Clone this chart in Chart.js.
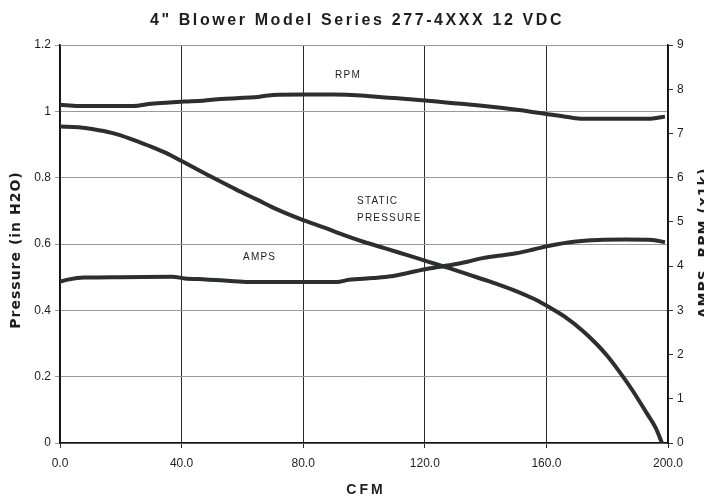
<!DOCTYPE html>
<html>
<head>
<meta charset="utf-8">
<script src="https://cdn.jsdelivr.net/npm/chart.js@4.4.0/dist/chart.umd.min.js"></script>
<style>
  html, body { margin: 0; padding: 0; background: #fff; }
  canvas { display: block; }
</style>
</head>
<body>
<canvas id="blowerChart" width="704" height="500"></canvas>
<script>
// 4" blower curves — pressure on the left axis, rpm and amps on the right one

const TITLE = '4" Blower Model Series 277-4XXX 12 VDC';

const X_TICKS = ['0.0', '40.0', '80.0', '120.0', '160.0', '200.0'];
const PRESSURE_TICKS = ['0', '0.2', '0.4', '0.6', '0.8', '1', '1.2'];
const RIGHT_TICKS = ['0', '1', '2', '3', '4', '5', '6', '7', '8', '9'];

const PRESSURE_CFM = [0, 6, 11, 17, 23, 29, 35, 40, 46, 52, 58, 65, 71, 80, 87, 93, 100, 107, 114, 121, 128, 134, 141, 150, 156, 161, 166, 172, 176, 180, 184, 188.5, 193, 196, 198];
const PRESSURE_VALUES = [0.954, 0.952, 0.946, 0.935, 0.918, 0.897, 0.874, 0.850, 0.821, 0.792, 0.764, 0.733, 0.706, 0.672, 0.649, 0.628, 0.606, 0.587, 0.567, 0.547, 0.527, 0.509, 0.488, 0.458, 0.434, 0.409, 0.381, 0.338, 0.303, 0.263, 0.215, 0.156, 0.090, 0.045, 0.0];

const RPM_CFM = [0, 6, 24, 30, 36, 41, 47, 53, 59, 64, 70, 80, 90, 99, 104, 110, 116, 121, 127, 132, 138, 145, 151, 156, 161, 167, 172, 180, 190, 195, 199];
const RPM_VALUES = [7.65, 7.62, 7.62, 7.67, 7.70, 7.72, 7.74, 7.78, 7.80, 7.82, 7.87, 7.88, 7.88, 7.86, 7.83, 7.80, 7.77, 7.74, 7.70, 7.67, 7.63, 7.58, 7.53, 7.48, 7.43, 7.37, 7.33, 7.33, 7.33, 7.34, 7.38];

const AMPS_CFM = [0, 3, 8, 20, 37, 41, 48, 55, 62, 80, 91, 95, 103, 109, 114, 121, 129, 134, 139, 145, 150, 156, 161, 169, 177, 186, 195, 199];
const AMPS_VALUES = [3.65, 3.70, 3.74, 3.75, 3.76, 3.72, 3.70, 3.67, 3.64, 3.64, 3.64, 3.69, 3.73, 3.77, 3.84, 3.94, 4.03, 4.10, 4.18, 4.24, 4.29, 4.38, 4.46, 4.55, 4.59, 4.60, 4.59, 4.54];

const LINE_COLOR = '#2b2f2d';
const INK = '#1e1e1e';

// curve names written inside the plot, placed in data units (cfm, pressure)
const CURVE_LABELS = [
  { text: 'RPM', cfm: 90.5, at: 1.11 },
  { text: 'STATIC', cfm: 97.7, at: 0.73 },
  { text: 'PRESSURE', cfm: 97.7, at: 0.678 },
  { text: 'AMPS', cfm: 60.2, at: 0.561 },
];

const pairs = (xs, ys) => xs.map((x, i) => ({ x, y: ys[i] }));

// ─── TEXT OVERLAY ────────────────────────────────────────────
const textOverlay = {
  id: 'textOverlay',
  afterDraw(chart) {
    const { ctx, chartArea, scales } = chart;
    ctx.save();
    ctx.fillStyle = INK;
    ctx.textBaseline = 'middle';

    // main title
    ctx.font = 'bold 16px "Liberation Sans", Arial, sans-serif';
    ctx.letterSpacing = '2.6px';
    ctx.textAlign = 'center';
    ctx.fillText(TITLE, 357, 21);

    // x axis title
    ctx.font = 'bold 14px "Liberation Sans", Arial, sans-serif';
    ctx.letterSpacing = '3px';
    ctx.fillText('CFM', (chartArea.left + chartArea.right) / 2 + 2, 490);

    // left axis title
    ctx.font = 'bold 14px "DejaVu Sans", sans-serif';
    ctx.letterSpacing = '1px';
    ctx.save();
    ctx.translate(16, 250);
    ctx.rotate(-Math.PI / 2);
    ctx.fillText('Pressure (in H2O)', 0, 0);
    ctx.restore();

    // right axis title, clipped by the canvas edge like the original
    ctx.save();
    ctx.translate(704, 243);
    ctx.rotate(-Math.PI / 2);
    ctx.fillText('AMPS  RPM (x1k)', 0, 0);
    ctx.restore();

    // curve names
    ctx.font = '10px "Liberation Sans", Arial, sans-serif';
    ctx.letterSpacing = '1.2px';
    ctx.textAlign = 'left';
    CURVE_LABELS.forEach(l => {
      ctx.fillText(l.text, scales.x.getPixelForValue(l.cfm), scales.y.getPixelForValue(l.at));
    });

    ctx.restore();
  },
};

// ─── CHART ───────────────────────────────────────────────────
const lineStyle = {
  borderColor: LINE_COLOR,
  backgroundColor: LINE_COLOR,
  borderWidth: 4,
  pointRadius: 0,
  tension: 0.35,
  cubicInterpolationMode: 'monotone',
  fill: false,
};

new Chart(document.getElementById('blowerChart'), {
  type: 'line',
  data: {
    datasets: [
      { label: 'Static Pressure', data: pairs(PRESSURE_CFM, PRESSURE_VALUES), yAxisID: 'y', ...lineStyle },
      { label: 'RPM', data: pairs(RPM_CFM, RPM_VALUES), yAxisID: 'y2', ...lineStyle },
      { label: 'AMPS', data: pairs(AMPS_CFM, AMPS_VALUES), yAxisID: 'y2', ...lineStyle },
    ],
  },
  options: {
    responsive: false,
    animation: false,
    layout: { padding: { top: 45, left: 0, right: 0, bottom: 0 } },
    plugins: {
      legend: { display: false },
      title: { display: false },
      tooltip: { enabled: false },
    },
    scales: {
      x: {
        type: 'linear',
        min: 0,
        max: 200,
        afterFit: s => { s.height = 57; },
        ticks: {
          stepSize: 40,
          color: INK,
          padding: 8,
          maxRotation: 0,
          font: { family: '"Liberation Sans", Arial, sans-serif', size: 12 },
          callback: (v, i) => X_TICKS[i],
        },
        grid: { color: '#2a2a2a', lineWidth: 1, tickLength: 5 },
        border: { color: '#111', width: 1.5 },
      },
      y: {
        position: 'left',
        min: 0,
        max: 1.2,
        afterFit: s => { s.width = 60; },
        ticks: {
          stepSize: 0.2,
          color: INK,
          padding: 4,
          font: { family: '"Liberation Sans", Arial, sans-serif', size: 12 },
          callback: (v, i) => PRESSURE_TICKS[i],
        },
        grid: { color: '#9a9a9a', lineWidth: 1, tickLength: 5 },
        border: { color: '#111', width: 1.5 },
      },
      y2: {
        position: 'right',
        min: 0,
        max: 9,
        afterFit: s => { s.width = 36; },
        ticks: {
          stepSize: 1,
          color: INK,
          padding: 4,
          font: { family: '"Liberation Sans", Arial, sans-serif', size: 12 },
          callback: (v, i) => RIGHT_TICKS[i],
        },
        grid: { drawOnChartArea: false, color: '#333', tickLength: 5 },
        border: { color: '#111', width: 1.5 },
      },
    },
  },
  plugins: [textOverlay],
});
</script>
</body>
</html>
